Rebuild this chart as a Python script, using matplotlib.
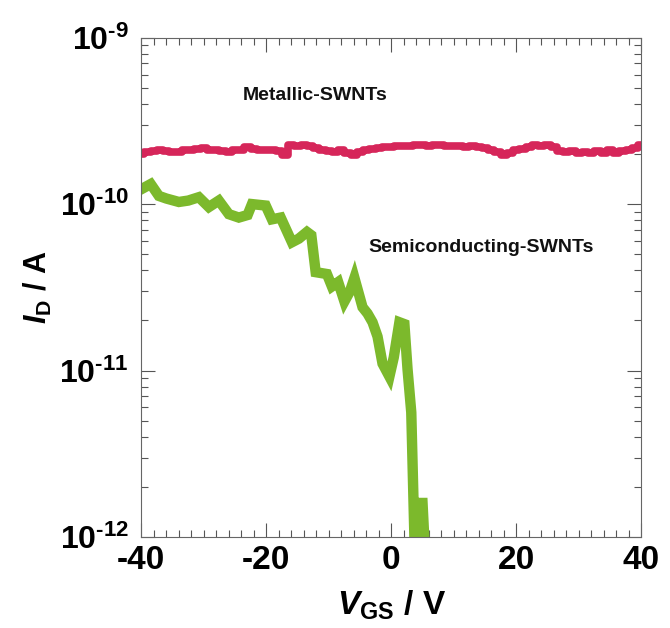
import math
import matplotlib
matplotlib.use("Agg")
import matplotlib.pyplot as plt
from matplotlib.ticker import FixedLocator, MultipleLocator, LogLocator, NullFormatter, FuncFormatter

plt.rcParams["font.family"] = ["Liberation Sans", "DejaVu Sans"]
plt.rcParams["mathtext.fontset"] = "custom"
plt.rcParams["mathtext.rm"] = "Liberation Sans:bold"
plt.rcParams["mathtext.bf"] = "Liberation Sans:bold"
plt.rcParams["mathtext.bfit"] = "Liberation Sans:bold:italic"
plt.rcParams["axes.unicode_minus"] = False

# metallic SWNTs, 1 V steps
vgs_metal = list(range(-40, 41))
id_metal = [2.00e-10, 2.05e-10, 2.08e-10, 2.10e-10, 2.08e-10, 2.05e-10, 2.06e-10, 2.10e-10, 2.12e-10, 2.15e-10,
            2.18e-10, 2.12e-10, 2.10e-10, 2.08e-10, 2.06e-10, 2.10e-10, 2.12e-10, 2.20e-10, 2.15e-10, 2.10e-10,
            2.12e-10, 2.10e-10, 2.08e-10, 1.98e-10, 2.25e-10, 2.22e-10, 2.28e-10, 2.22e-10, 2.18e-10, 2.12e-10,
            2.08e-10, 2.05e-10, 2.10e-10, 2.02e-10, 1.98e-10, 2.05e-10, 2.12e-10, 2.15e-10, 2.18e-10, 2.20e-10,
            2.20e-10, 2.22e-10, 2.24e-10, 2.22e-10, 2.25e-10, 2.26e-10, 2.24e-10, 2.26e-10, 2.25e-10, 2.22e-10,
            2.24e-10, 2.22e-10, 2.20e-10, 2.22e-10, 2.20e-10, 2.18e-10, 2.12e-10, 2.05e-10, 1.98e-10, 2.02e-10,
            2.10e-10, 2.15e-10, 2.20e-10, 2.25e-10, 2.22e-10, 2.28e-10, 2.20e-10, 2.08e-10, 2.05e-10, 2.08e-10,
            2.04e-10, 2.06e-10, 2.02e-10, 2.08e-10, 2.04e-10, 2.10e-10, 2.03e-10, 2.08e-10, 2.12e-10, 2.18e-10,
            2.25e-10]

# semiconducting SWNTs
vgs_semi = [-40, -38.5, -37.2, -36, -34, -32.5, -30.8, -29.2, -27.6, -26, -24.4, -23, -22.3, -20.1, -19.1,
            -17.7, -16.8, -15.9, -14.8, -13.5, -12.8, -12.1, -10.3, -9.5, -8.5, -7.5, -6.6, -5.9, -4.6, -3.8,
            -3, -2.2, -1.4, -0.3, 0.4, 1.3, 2.1, 2.6, 3.2, 3.7, 4.1, 4.5, 5.0, 5.4, 5.8]
id_semi = [1.23e-10, 1.32e-10, 1.12e-10, 1.08e-10, 1.03e-10, 1.05e-10, 1.10e-10, 9.6e-11, 1.05e-10, 8.7e-11,
           8.3e-11, 8.6e-11, 1.00e-10, 9.8e-11, 8.1e-11, 8.3e-11, 7.0e-11, 5.9e-11, 6.2e-11, 6.8e-11,
           6.5e-11, 3.9e-11, 3.8e-11, 3.2e-11, 3.4e-11, 2.6e-11, 3.0e-11, 3.6e-11, 2.4e-11, 2.2e-11,
           1.95e-11, 1.6e-11, 1.1e-11, 9.2e-12, 1.2e-11, 1.95e-11, 1.9e-11, 1.02e-11, 5.6e-12, 1.0e-12,
           8.0e-13, 1.6e-12, 1.6e-12, 8.0e-13, 5.0e-13]

x_ticks = [-40, -20, 0, 20, 40]
y_ticks = [1e-12, 1e-11, 1e-10, 1e-9]

fig = plt.figure(figsize=(6.70, 6.28), dpi=100)
ax = fig.add_axes([0.211, 0.145, 0.746, 0.795])

ax.plot(vgs_metal, id_metal, color="#d6265a", lw=5.5, drawstyle="steps-mid", solid_joinstyle="round")
ax.plot(vgs_semi, id_semi, color="#7cb92c", lw=7.5, solid_joinstyle="miter")

ax.set_yscale("log")
ax.set_xlim(-40, 40)
ax.set_ylim(1e-12, 1e-9)

ax.xaxis.set_major_locator(FixedLocator(x_ticks))
ax.xaxis.set_minor_locator(MultipleLocator(2))
ax.yaxis.set_major_locator(FixedLocator(y_ticks))
ax.yaxis.set_minor_locator(LogLocator(base=10, subs=range(2, 10)))
ax.yaxis.set_minor_formatter(NullFormatter())
ax.xaxis.set_major_formatter(FuncFormatter(lambda v, p: f"{v:.0f}"))
ax.yaxis.set_major_formatter(FuncFormatter(
    lambda v, p: r"$\mathbf{10^{\text{-}%d}}$" % abs(round(math.log10(v)))))

ax.tick_params(which="both", direction="in", top=True, right=True, color="#555555", width=0.8)
ax.tick_params(which="major", length=10)
ax.tick_params(axis="x", which="major", pad=6, labelsize=24)
ax.tick_params(axis="y", which="major", pad=9, labelsize=23)
ax.tick_params(which="minor", length=5)
for lab in ax.get_xticklabels():
    lab.set_fontweight("bold")
for s in ax.spines.values():
    s.set_color("#666666")
    s.set_linewidth(0.8)

ax.text(-23.7, 4.5e-10, "Metallic-SWNTs", fontsize=14, fontweight="bold", ha="left", va="center", color="#111111")
ax.text(-3.7, 5.5e-11, "Semiconducting-SWNTs", fontsize=14, fontweight="bold", ha="left", va="center", color="#111111")

ax.set_xlabel(r"$\mathbfit{V}_{\mathbf{GS}}$ / V", fontsize=24, fontweight="bold", labelpad=9)
ax.set_ylabel(r"$\mathbfit{I}_{\mathbf{D}}$ / A", fontsize=22, fontweight="bold", labelpad=4)

fig.savefig("out.png", dpi=100)
